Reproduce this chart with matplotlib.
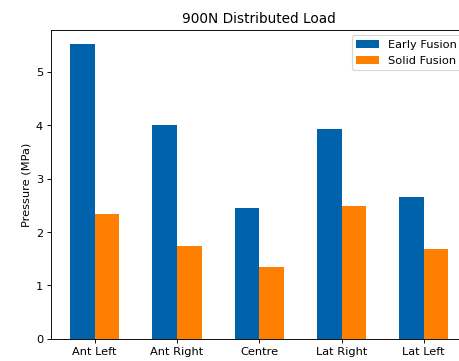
import numpy as np
import matplotlib
matplotlib.use("Agg")
import matplotlib.pyplot as plt

# valeurs (MPa)
regions = ["Ant Left", "Ant Right", "Centre", "Lat Right", "Lat Left"]
early_fusion = [5.52, 4.00, 2.45, 3.94, 2.66]
solid_fusion = [2.33, 1.74, 1.34, 2.49, 1.69]

x = np.arange(len(regions))
w = 0.3

# l'image d'origine est reduite (~0.82) puis rognee a droite
DPI = 82
fig = plt.figure(figsize=(459.4 / DPI, 361.4 / DPI), dpi=DPI)
ax = fig.add_axes([51 / 459, 1 - 338.8 / 361, 416 / 459, 308.8 / 361])

ax.bar(x - w / 2, early_fusion, w, color="#0062aa", label="Early Fusion")
ax.bar(x + w / 2, solid_fusion, w, color="#ff7f00", label="Solid Fusion")

ax.set_xticks(x)
ax.set_xticklabels(regions)
ax.set_ylabel("Pressure (MPa)")
ax.set_title("900N Distributed Load")
ax.legend(loc="upper right")
# le bord droit est hors de l'image de toute facon
ax.spines["right"].set_visible(False)

fig.savefig("out.png", dpi=DPI)
